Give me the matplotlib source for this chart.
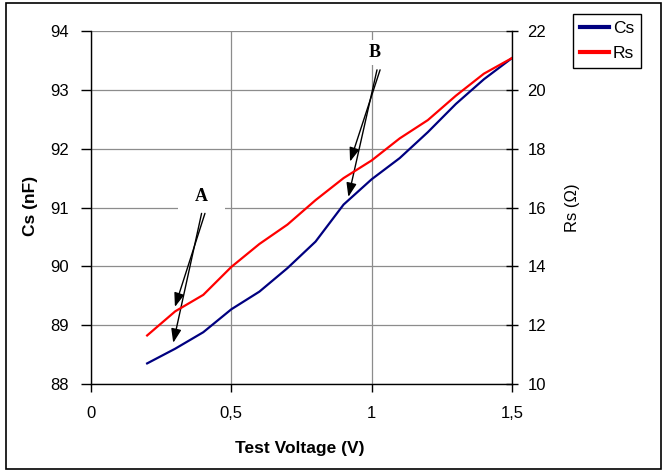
import numpy as np
import matplotlib
matplotlib.use('Agg')
import matplotlib.pyplot as plt
from matplotlib.patches import Rectangle

plt.rcParams['font.family'] = ['Liberation Sans', 'DejaVu Sans']

# data
voltage = [0.2, 0.3, 0.4, 0.5, 0.6, 0.7, 0.8, 0.9, 1.0, 1.1, 1.2, 1.3, 1.4, 1.5]
cs = [88.35, 88.60, 88.88, 89.27, 89.57, 89.97, 90.42, 91.05, 91.48, 91.84, 92.28, 92.76, 93.18, 93.54]
rs = [11.65, 12.47, 13.03, 13.98, 14.76, 15.42, 16.25, 17.00, 17.60, 18.35, 18.97, 19.80, 20.55, 21.08]

x_ticks = [0, 0.5, 1, 1.5]
x_ticklabels = ['0', '0,5', '1', '1,5']
cs_ticks = [88, 89, 90, 91, 92, 93, 94]
rs_ticks = [10, 12, 14, 16, 18, 20, 22]

W, H = 664, 472
fig = plt.figure(figsize=(W/100, H/100), dpi=100)
ax = fig.add_axes([91/W, 1-384/H, (512-91)/W, (384-31)/H])
ax2 = ax.twinx()

l1, = ax.plot(voltage, cs, color='#000080', lw=1.6, label='Cs', zorder=3)
l2, = ax2.plot(voltage, rs, color='#ff0000', lw=1.6, label='Rs', zorder=3)

ax.set_xlim(0, 1.5)
ax.set_ylim(88, 94)
ax2.set_ylim(10, 22)
ax.set_xticks(x_ticks)
ax.set_xticklabels(x_ticklabels)
ax.set_yticks(cs_ticks)
ax2.set_yticks(rs_ticks)

ax.grid(True, color='#8c8c8c', lw=0.9)
ax.set_axisbelow(True)
ax.spines['top'].set_visible(False)
ax2.spines['top'].set_visible(False)
ax2.spines['left'].set_visible(False)
ax2.spines['bottom'].set_visible(False)
ax.spines['right'].set_visible(False)
for sp in [ax.spines['left'], ax.spines['bottom'], ax2.spines['right']]:
    sp.set_color('black')
    sp.set_linewidth(1.0)

ax.tick_params(axis='y', direction='out', length=7, width=1, pad=9, labelsize=12)
ax.tick_params(axis='x', direction='out', length=6, width=1, pad=10, labelsize=12)
ax2.tick_params(axis='y', direction='inout', length=8, width=1, pad=7, labelsize=12)

ax.set_xlabel('Test Voltage (V)', fontsize=12.5, fontweight='bold')
ax.set_ylabel('Cs (nF)', fontsize=12.5, fontweight='bold')
ax2.set_ylabel('Rs (\u03a9)', fontsize=12)
ax.xaxis.set_label_coords(0.496, -0.162)
ax.yaxis.set_label_coords(-0.125, 0.505)
ax2.yaxis.set_label_coords(1.126, 0.50)

# annotations A and B
arr = dict(arrowstyle='-|>,head_length=0.6,head_width=0.22', color='black', lw=1.0,
           mutation_scale=14, shrinkA=0, shrinkB=0)
ax.annotate('', xy=(0.299, 89.31), xytext=(0.406, 90.90), arrowprops=arr, zorder=4)
ax.annotate('', xy=(0.293, 88.70), xytext=(0.394, 90.90), arrowprops=arr, zorder=4)
ax.annotate('', xy=(0.923, 91.78), xytext=(1.030, 93.34), arrowprops=arr, zorder=4)
ax.annotate('', xy=(0.917, 91.18), xytext=(1.019, 93.34), arrowprops=arr, zorder=4)
ax.text(0.394, 91.18, 'A', family='Liberation Serif', fontweight='bold', fontsize=13,
        ha='center', va='center', zorder=2,
        bbox=dict(facecolor='white', edgecolor='none', pad=12))
ax.text(1.012, 93.64, 'B', family='Liberation Serif', fontweight='bold', fontsize=13,
        ha='center', va='center', zorder=2,
        bbox=dict(facecolor='white', edgecolor='none', pad=3))

leg = fig.legend(handles=[l1, l2], loc='upper left', bbox_to_anchor=(573/W, 1-14/H),
                 borderaxespad=0, fancybox=False, edgecolor='black', framealpha=1,
                 fontsize=12.5, handlelength=1.7, handletextpad=0.2, borderpad=0.4,
                 labelspacing=0.55)
leg.get_frame().set_linewidth(1.0)
for ln in leg.get_lines():
    ln.set_linewidth(3)

fig.patches.append(Rectangle((6/W, 3/H), (661-6)/W, (469-3)/H, transform=fig.transFigure,
                             fill=False, edgecolor='black', lw=1.2))

fig.savefig('out.png', dpi=100)
